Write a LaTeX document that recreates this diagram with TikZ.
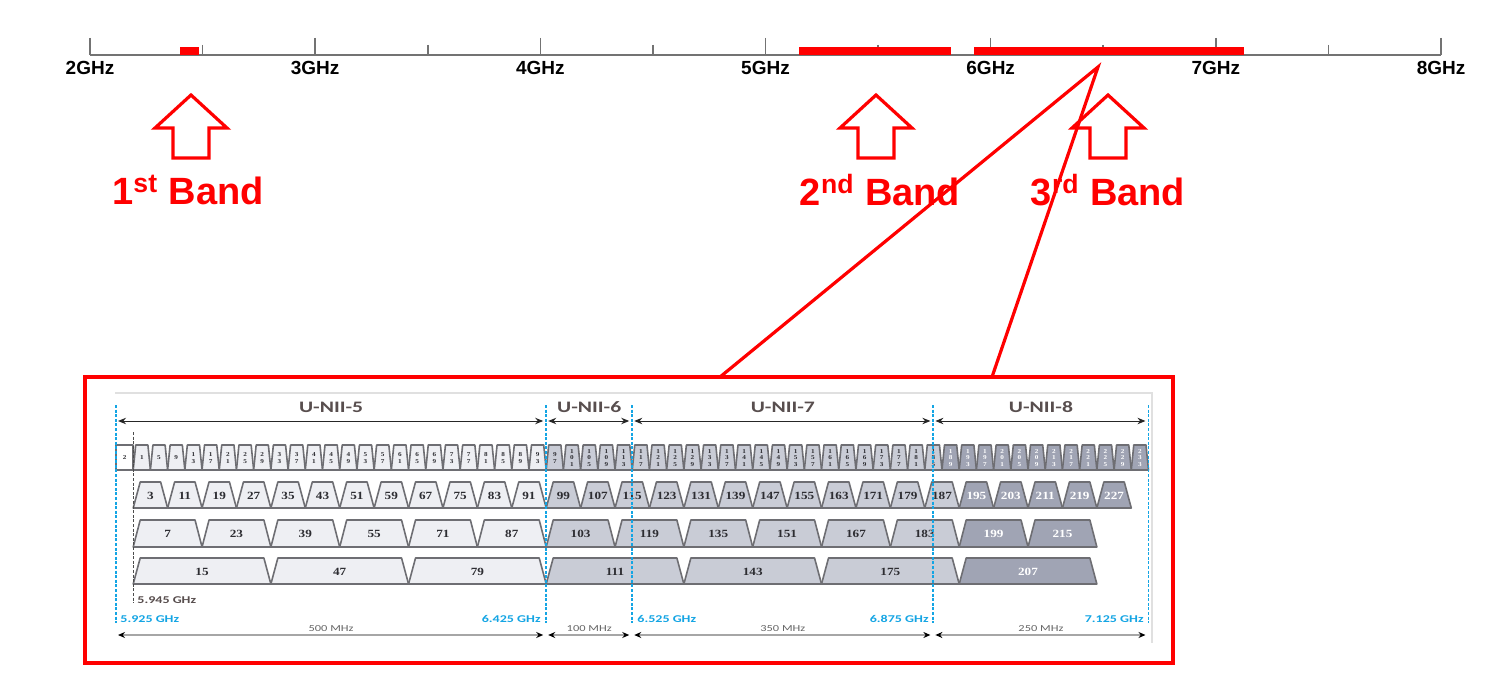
\documentclass[tikz,border=0pt]{standalone}
\usepackage{fontspec}
\setmainfont{Liberation Sans}
\newfontfamily\insetfont[FakeStretch=1.35]{Carlito}
\newfontfamily\numfont[FakeStretch=1.2]{Liberation Serif}
\usetikzlibrary{arrows.meta}

\definecolor{bandred}{RGB}{255,0,0}
\definecolor{axisgray}{RGB}{115,115,115}
\definecolor{chlight}{RGB}{238,239,243}
\definecolor{chmid}{RGB}{201,204,214}
\definecolor{chdark}{RGB}{160,164,180}
\definecolor{chline}{RGB}{110,110,115}
\definecolor{chnum}{RGB}{45,45,50}
\definecolor{uniiblue}{RGB}{20,165,228}
\definecolor{uniitext}{RGB}{88,78,78}

\tikzset{
  axisline/.style={draw=axisgray, line width=0.8pt},
  bandline/.style={draw=bandred, line width=1.6pt},
  ghzlabel/.style={font=\fontsize{9.5}{10}\selectfont\bfseries, text=black, inner sep=0pt},
  bandlabel/.style={font=\fontsize{19}{20}\selectfont\bfseries, text=bandred, inner sep=0pt},
  insetframe/.style={draw=black!12, line width=0.8pt},
  chbox/.style={draw=chline, line width=0.8pt, line join=round},
  chtiny/.style={font=\numfont\bfseries\fontsize{3}{3.3}\selectfont, align=center, inner sep=0pt},
  chnumber/.style={font=\numfont\bfseries\fontsize{5.5}{6}\selectfont, inner sep=0pt},
  bluedash/.style={draw=uniiblue, line width=0.9pt, dash pattern=on 1.5pt off 0.8pt},
  blackdash/.style={draw=black!70, line width=0.6pt, dash pattern=on 1.5pt off 0.8pt},
  uniiarrow/.style={{Stealth[length=4pt,width=3.2pt]}-{Stealth[length=4pt,width=3.2pt]}, draw=black!85, line width=0.5pt},
  uniilabel/.style={font=\insetfont\bfseries\fontsize{8}{9}\selectfont, text=uniitext, inner sep=0pt},
  ghzblue/.style={font=\insetfont\bfseries\fontsize{5.2}{6}\selectfont, text=uniiblue, inner sep=0pt},
  ghzdark/.style={font=\insetfont\bfseries\fontsize{5.2}{6}\selectfont, text=uniitext, inner sep=0pt},
  spanarrow/.style={{Stealth[length=3.5pt,width=3pt,color=black]}-{Stealth[length=3.5pt,width=3pt,color=black]}, draw=black!35, line width=1.1pt},
  spanlabel/.style={font=\insetfont\fontsize{4.6}{5}\selectfont, text=black!60, inner sep=0pt},
}

% x position of a frequency in MHz inside the inset
\newcommand{\mhzx}[1]{116+(#1-5925)*0.8604}

% one channel: number, width (MHz), top, bottom, slope inset, stacked label (1) or not (0)
\newcommand{\drawchan}[6]{%
  \pgfmathsetmacro\chxa{\mhzx{5950+5*#1-#2/2}}%
  \pgfmathsetmacro\chxb{\mhzx{5950+5*#1+#2/2}}%
  \pgfmathtruncatemacro\chend{5950+5*#1+#2/2}%
  \pgfmathtruncatemacro\chbeg{5950+5*#1-#2/2}%
  \ifnum\chend<6426 \def\chfill{chlight}\def\chtext{chnum}%
  \else\ifnum\chbeg>6884 \def\chfill{chdark}\def\chtext{white}%
  \else\def\chfill{chmid}\def\chtext{chnum}\fi\fi
  \draw[chbox, fill=\chfill] (\chxa,#4) -- ({\chxa+#5},#3) -- ({\chxb-#5},#3) -- (\chxb,#4) -- cycle;
  \ifnum#6=1\relax
    \pgfmathtruncatemacro\dgh{#1/100}%
    \pgfmathtruncatemacro\dgt{mod(#1,100)/10}%
    \pgfmathtruncatemacro\dgo{mod(#1,10)}%
    \ifnum#1<10 \def\chlab{\dgo}\else\ifnum#1<100 \def\chlab{\dgt\\\dgo}\else\def\chlab{\dgh\\\dgt\\\dgo}\fi\fi
    \node[chtiny, text=\chtext] (ch#2-#1) at ({(\chxa+\chxb)/2},{(#3+#4)/2+0.5}) {\chlab};
  \else
    \node[chnumber, text=\chtext] (ch#2-#1) at ({(\chxa+\chxb)/2},{(#3+#4)/2+0.5}) {#1};
  \fi
}

\begin{document}
\begin{tikzpicture}[x=0.5pt, y=-0.5pt]
    \useasboundingbox (0,0) rectangle (1498,678);
    \fill[white] (0,0) rectangle (1498,678);
    % Draw the frequency axis
    \draw[axisline] (90,55) -- (1441,55);
    \foreach \g in {2,...,8} {
        \draw[axisline] ({90+(\g-2)*225.17},38) -- ({90+(\g-2)*225.17},55);
        \node[ghzlabel] (ghz\g) at ({90+(\g-2)*225.17},68) {\g GHz};
    }
    \foreach \g in {2.5,3.5,...,7.5}
        \draw[axisline] ({90+(\g-2)*225.17},45) -- ({90+(\g-2)*225.17},55);
    % Draw the three bands on the axis
    \fill[bandred] (180.1,47) rectangle (198.9,55);
    \fill[bandred] (799.3,47) rectangle (951.3,55);
    \fill[bandred] (973.8,47) rectangle (1244,55);
    % Draw the hollow arrows and band names
    \foreach \cx in {191,876,1108}
        \draw[bandline, shift={(\cx,95)}] (0,0) -- (36,33) -- (18,33) -- (18,63) -- (-18,63) -- (-18,33) -- (-36,33) -- cycle;
    \node[bandlabel] (band1) at (188,190) {1\textsuperscript{st} Band};
    \node[bandlabel] (band2) at (880,190) {2\textsuperscript{nd} Band};
    \node[bandlabel] (band3) at (1108,190) {3\textsuperscript{rd} Band};
    % Draw the zoom lines and the inset box
    \coordinate (apex) at (1098,67);
    \coordinate (zoomL) at (720,377);
    \coordinate (zoomR) at (992,377);
    \draw[bandline] (zoomL) -- (apex) -- (zoomR);
    \draw[bandline] (85,377) rectangle (1173,663);
    \draw[insetframe] (115,393) -- (1152,393) -- (1152,643);
    % Draw the U-NII ranges
    \foreach \a/\b/\nm in {5925/6425/5, 6425/6525/6, 6525/6875/7, 6875/7125/8} {
        \draw[uniiarrow] ({\mhzx{\a}+2},421) -- ({\mhzx{\b}-3},421);
        \node[uniilabel] (unii\nm) at ({\mhzx{(\a+\b)/2}},407) {U-NII-\nm};
    }
    % Draw the channel rows (20, 40, 80 and 160 MHz)
    \draw[chbox, fill=white] (116,445) rectangle ({\mhzx{5945}},470);
    \node[chtiny, text=chnum] (ch20-2) at ({\mhzx{5935}},458) {2};
    \foreach \n in {1,5,...,233} \drawchan{\n}{20}{445}{470}{2.5}{1};
    \foreach \n in {3,11,...,227} \drawchan{\n}{40}{482}{508}{7}{0};
    \foreach \n in {7,23,...,215} \drawchan{\n}{80}{520}{547}{7}{0};
    \foreach \n in {15,47,...,207} \drawchan{\n}{160}{558}{584}{7}{0};
    % Draw the band edges
    \foreach \f in {5925,6425,6525,6875,7125}
        \draw[bluedash] ({\mhzx{\f}},405) -- ({\mhzx{\f}},623);
    \draw[blackdash] ({\mhzx{5945}},432) -- ({\mhzx{5945}},603);
    \node[ghzdark, anchor=west] (f5945) at (137,600) {5.945 GHz};
    \node[ghzblue, anchor=west] (f5925) at (120,619) {5.925 GHz};
    \node[ghzblue, anchor=east] (f6425) at (541,619) {6.425 GHz};
    \node[ghzblue, anchor=west] (f6525) at (637,619) {6.525 GHz};
    \node[ghzblue, anchor=east] (f6875) at (929,619) {6.875 GHz};
    \node[ghzblue, anchor=east] (f7125) at (1144,619) {7.125 GHz};
    % Draw the widths of the ranges
    \foreach \a/\b/\w in {5925/6425/500, 6425/6525/100, 6525/6875/350, 6875/7125/250} {
        \draw[spanarrow] ({\mhzx{\a}+2},635) -- ({\mhzx{\b}-3},635);
        \node[spanlabel] (span\w) at ({\mhzx{(\a+\b)/2}},629) {\w~MHz};
    }
\end{tikzpicture}
\end{document}
